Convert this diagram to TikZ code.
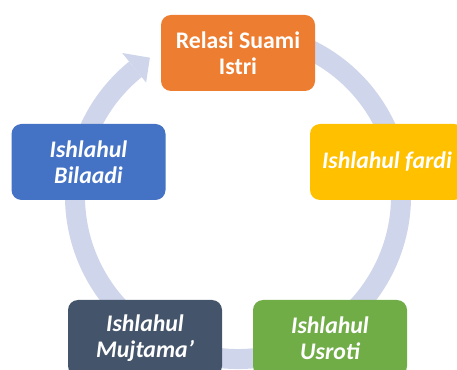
\documentclass[tikz,border=0pt]{standalone}
\usepackage{fontspec}
\setmainfont{Carlito}
\definecolor{ringc}{HTML}{CFD5EA}
\definecolor{corange}{HTML}{ED7D31}
\definecolor{cyellow}{HTML}{FFC000}
\definecolor{cblue}{HTML}{4472C4}
\definecolor{cdark}{HTML}{44546A}
\definecolor{cgreen}{HTML}{70AD47}
\begin{document}
\begin{tikzpicture}[x=1pt,y=1pt,
  box/.style={rounded corners=10pt, minimum width=154pt, minimum height=76pt, inner sep=0pt,
    text=white, align=center, font=\fontsize{23.8}{26}\selectfont\bfseries},
  ibox/.style={box, font=\fontsize{23.8}{26}\selectfont\bfseries\itshape},
  ring/.style={draw=ringc, line width=20pt}]
\useasboundingbox (0,0) rectangle (457,369);
\clip (0,0) rectangle (457,369);
\begin{scope}[shift={(238,173)}]
  \draw[ring] (110:163) arc[start angle=110, end angle=-231, radius=163];
  \fill[ringc] (129:146) -- (122.5:164) -- (129:184) -- cycle;
\end{scope}
\node[box, fill=corange] (top) at (238,316) {Relasi Suami\\Istri};
\node[ibox, fill=cyellow] (right) at (387,207) {Ishlahul fardi};
\node[ibox, fill=cgreen] (br) at (330,31) {Ishlahul\\Usroti};
\node[ibox, fill=cdark] (bl) at (145,31) {Ishlahul\\Mujtama’};
\node[ibox, fill=cblue] (left) at (88.5,207) {Ishlahul\\Bilaadi};
\end{tikzpicture}
\end{document}
